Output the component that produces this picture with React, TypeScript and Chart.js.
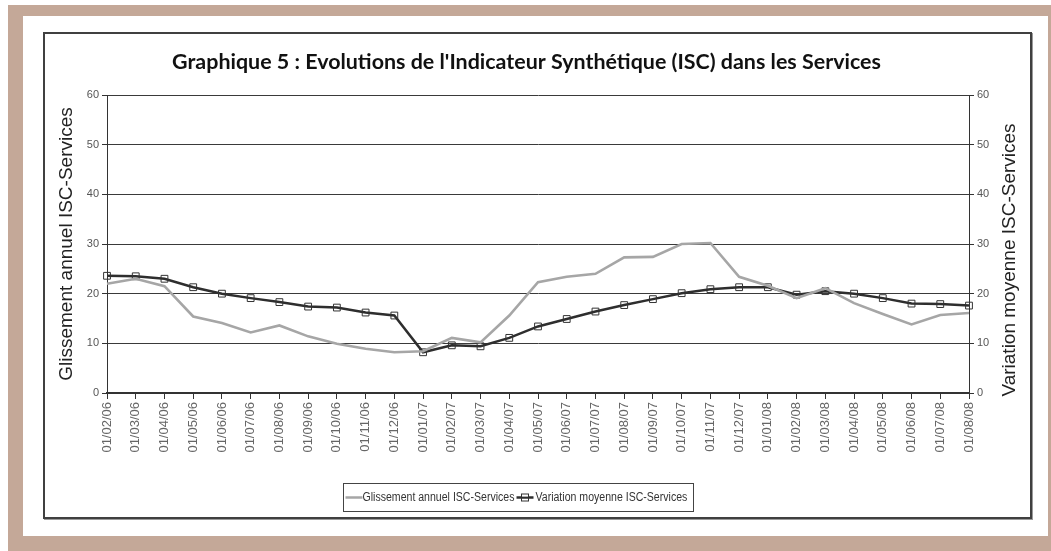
import React, { useEffect, useRef } from "react";
import { Chart, registerables } from "chart.js";

Chart.register(...registerables);

const TITLE = "Graphique 5 : Evolutions de l'Indicateur Synthétique (ISC) dans les Services";
const LEFT_TITLE = "Glissement annuel ISC-Services";
const RIGHT_TITLE = "Variation moyenne ISC-Services";

const categories = [
  "01/02/06", "01/03/06", "01/04/06", "01/05/06", "01/06/06", "01/07/06", "01/08/06",
  "01/09/06", "01/10/06", "01/11/06", "01/12/06", "01/01/07", "01/02/07", "01/03/07",
  "01/04/07", "01/05/07", "01/06/07", "01/07/07", "01/08/07", "01/09/07", "01/10/07",
  "01/11/07", "01/12/07", "01/01/08", "01/02/08", "01/03/08", "01/04/08", "01/05/08",
  "01/06/08", "01/07/08", "01/08/08",
];

const glissement = [
  22.0, 23.0, 21.5, 15.4, 14.1, 12.2, 13.6, 11.4, 9.9, 8.9, 8.2, 8.4, 11.1, 10.2,
  15.6, 22.3, 23.4, 24.0, 27.3, 27.4, 30.0, 30.2, 23.4, 21.6, 19.1, 21.1, 18.1, 15.9,
  13.8, 15.7, 16.1,
];

const variation = [
  23.6, 23.5, 23.0, 21.3, 20.0, 19.1, 18.3, 17.4, 17.2, 16.2, 15.6, 8.2, 9.6, 9.4,
  11.1, 13.4, 14.9, 16.4, 17.7, 18.9, 20.1, 20.9, 21.3, 21.3, 19.8, 20.5, 20.0, 19.1,
  18.0, 17.9, 17.6,
];

const yTicks = [0, 10, 20, 30, 40, 50, 60];

const GRAY = "#a6a6a6";
const DARK = "#2e2e2e";
const NARROW = "'Liberation Sans Narrow', 'Liberation Sans', sans-serif";
const SANS = "'Liberation Sans', Arial, sans-serif";

const decor = {
  id: "decor",
  afterDraw(chart: any) {
    const ctx = chart.ctx as CanvasRenderingContext2D;
    ctx.save();
    // title
    let size = 17;
    ctx.font = `bold ${size}px Lato, 'DejaVu Sans', sans-serif`;
    const w = ctx.measureText(TITLE).width;
    size = (size * 709) / w;
    ctx.font = `bold ${size.toFixed(2)}px Lato, 'DejaVu Sans', sans-serif`;
    ctx.fillStyle = "#111";
    ctx.textAlign = "center";
    ctx.textBaseline = "middle";
    ctx.fillText(TITLE, 481.5, 28);

    // right axis title, reading bottom to top
    ctx.save();
    ctx.translate(965, 226);
    ctx.rotate(-Math.PI / 2);
    ctx.font = `19px ${SANS}`;
    ctx.fillStyle = "#222";
    ctx.textAlign = "center";
    ctx.textBaseline = "middle";
    ctx.fillText(RIGHT_TITLE, 0, 0);
    ctx.restore();

    // legend
    const sx = 0.88;
    ctx.font = `12px ${NARROW}`;
    ctx.textAlign = "left";
    ctx.textBaseline = "middle";
    const t1 = "Glissement annuel ISC-Services";
    const t2 = "Variation moyenne ISC-Services";
    const w1 = ctx.measureText(t1).width * sx;
    const w2 = ctx.measureText(t2).width * sx;
    const iconW = 17;
    const gap = 2;
    const contentW = 2 + iconW + w1 + gap + iconW + 2 + w2 + 6;
    const cx = 473;
    const left = Math.round(cx - contentW / 2) + 0.5;
    const top = 449.5;
    const h = 28;
    ctx.strokeStyle = "#444";
    ctx.lineWidth = 1;
    ctx.strokeRect(left, top, Math.round(contentW), h);
    const cy = top + h / 2;
    let x = left + 2;
    ctx.strokeStyle = GRAY;
    ctx.lineWidth = 2.5;
    ctx.beginPath();
    ctx.moveTo(x, cy);
    ctx.lineTo(x + iconW, cy);
    ctx.stroke();
    x += iconW;
    ctx.fillStyle = "#333";
    ctx.save();
    ctx.translate(x, cy + 0.5);
    ctx.scale(sx, 1);
    ctx.fillText(t1, 0, 0);
    ctx.restore();
    x += w1 + gap;
    ctx.strokeStyle = DARK;
    ctx.lineWidth = 2.5;
    ctx.beginPath();
    ctx.moveTo(x, cy);
    ctx.lineTo(x + iconW, cy);
    ctx.stroke();
    ctx.lineWidth = 1;
    ctx.strokeStyle = "#333";
    ctx.fillStyle = "#fff";
    ctx.fillRect(x + iconW / 2 - 3.5, cy - 4.5, 7, 3.5);
    ctx.strokeRect(x + iconW / 2 - 3.5, cy - 3.5, 7, 7);
    x += iconW + 2;
    ctx.fillStyle = "#333";
    ctx.save();
    ctx.translate(x, cy + 0.5);
    ctx.scale(sx, 1);
    ctx.fillText(t2, 0, 0);
    ctx.restore();
    ctx.restore();
  },
};

export default function App() {
  const ref = useRef<HTMLCanvasElement | null>(null);

  useEffect(() => {
    if (!ref.current) return;
    const chart = new Chart(ref.current, {
      type: "line",
      data: {
        labels: categories,
        datasets: [
          {
            label: "Glissement annuel ISC-Services",
            data: glissement,
            borderColor: GRAY,
            backgroundColor: GRAY,
            borderWidth: 2.6,
            pointRadius: 0,
            tension: 0,
            yAxisID: "y",
          },
          {
            label: "Variation moyenne ISC-Services",
            data: variation,
            borderColor: DARK,
            backgroundColor: "rgba(255,255,255,0)",
            borderWidth: 2.5,
            pointStyle: "rect",
            pointRadius: 4.8,
            pointBorderColor: "#333",
            pointBorderWidth: 1,
            pointBackgroundColor: "rgba(255,255,255,0)",
            tension: 0,
            yAxisID: "y1",
          },
        ],
      },
      options: {
        responsive: false,
        devicePixelRatio: 1,
        animation: false,
        layout: { padding: { top: 61, bottom: 60, left: 0, right: 0 } },
        plugins: {
          legend: { display: false },
          title: { display: false },
          tooltip: { enabled: false },
        },
        scales: {
          x: {
            type: "category",
            offset: false,
            afterFit: (s: any) => {
              s.height = 64;
            },
            grid: {
              drawOnChartArea: false,
              drawTicks: true,
              tickLength: 6,
              tickColor: "#333",
              tickWidth: 1,
            },
            border: { display: true, color: "#333", width: 2 },
            ticks: {
              autoSkip: false,
              minRotation: 90,
              maxRotation: 90,
              padding: 3,
              color: "#666",
              font: { family: SANS, size: 13 },
            },
          },
          y: {
            position: "left",
            min: 0,
            max: 60,
            afterFit: (s: any) => {
              s.width = 62;
            },
            afterBuildTicks: (s: any) => {
              s.ticks = yTicks.map((v) => ({ value: v }));
            },
            grid: {
              drawOnChartArea: true,
              color: "#3a3a3a",
              lineWidth: 1,
              borderDash: [1, 1],
              drawTicks: true,
              tickLength: 5,
              tickColor: "#333",
              tickWidth: 1,
              tickBorderDash: [],
            },
            border: { display: true, color: "#333", width: 1 },
            ticks: {
              padding: 3,
              color: "#555",
              font: { family: NARROW, size: 11 },
            },
            title: {
              display: true,
              text: LEFT_TITLE,
              color: "#222",
              font: { family: SANS, size: 19 },
              padding: { top: 10, bottom: 0 },
            },
          },
          y1: {
            position: "right",
            min: 0,
            max: 60,
            afterFit: (s: any) => {
              s.width = 61;
            },
            afterBuildTicks: (s: any) => {
              s.ticks = yTicks.map((v) => ({ value: v }));
            },
            grid: {
              drawOnChartArea: false,
              drawTicks: true,
              tickLength: 5,
              tickColor: "#333",
              tickWidth: 1,
            },
            border: { display: true, color: "#333", width: 1 },
            ticks: {
              padding: 3,
              color: "#555",
              font: { family: NARROW, size: 11 },
            },
            title: { display: false },
          },
        },
      },
      plugins: [decor],
    } as any);
    return () => chart.destroy();
  }, []);

  return (
    <div style={{ position: "absolute", left: 0, top: 0, width: 1051, height: 551, background: "#fff", overflow: "hidden" }}>
      <div style={{ position: "absolute", left: 8, top: 5, width: 1043, height: 546, background: "#c4a898" }} />
      <div style={{ position: "absolute", left: 23, top: 16, width: 1025, height: 520, background: "#fff" }} />
      <div
        style={{
          position: "absolute",
          left: 43,
          top: 32,
          width: 989,
          height: 487,
          boxSizing: "border-box",
          border: "2px solid #404040",
          boxShadow: "1px 1px 0 #9a9a9a",
          background: "#fff",
        }}
      />
      <canvas ref={ref} width={985} height={483} style={{ position: "absolute", left: 45, top: 34, width: 985, height: 483 }} />
    </div>
  );
}
